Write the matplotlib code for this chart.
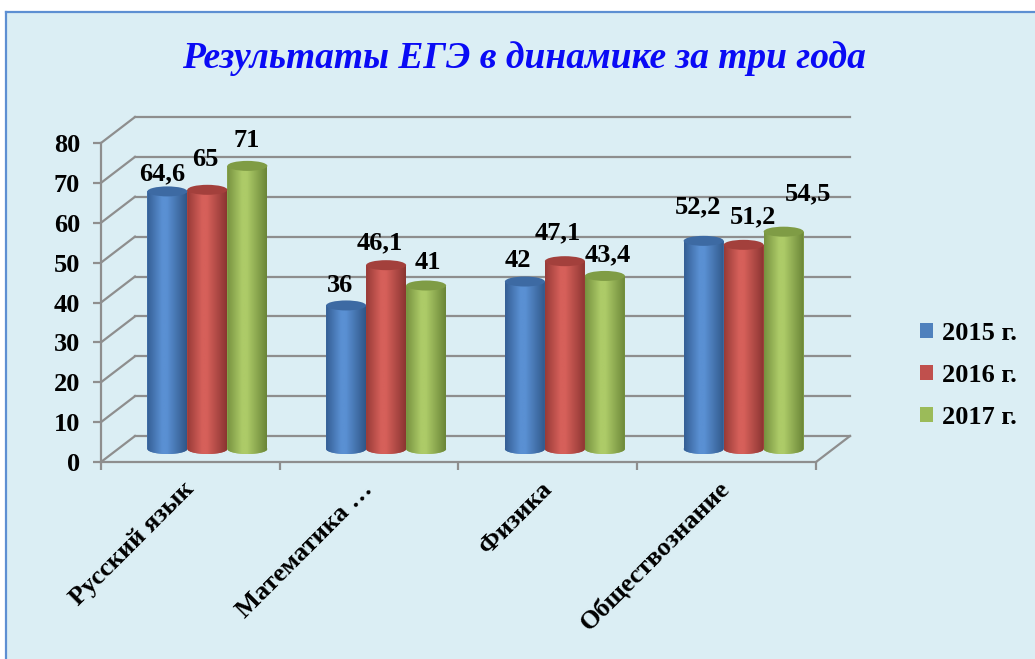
import numpy as np
import matplotlib
matplotlib.use("Agg")
import matplotlib.pyplot as plt
from matplotlib.patches import Rectangle, Ellipse, Patch
from matplotlib.path import Path
from matplotlib.lines import Line2D
from matplotlib.transforms import offset_copy
from matplotlib.colors import LinearSegmentedColormap

# ---------------- data ----------------
categories = ["Русский язык", "Математика …", "Физика", "Обществознание"]
series_names = ["2015 г.", "2016 г.", "2017 г."]
values_2015 = [64.6, 36, 42, 52.2]
values_2016 = [65, 46.1, 47.1, 51.2]
values_2017 = [71, 41, 43.4, 54.5]
y_ticks = [0, 10, 20, 30, 40, 50, 60, 70, 80]
title = "Результаты ЕГЭ в динамике за три года"

series = [values_2015, values_2016, values_2017]

# ---------------- style ----------------
W, H = 1035, 659
SERIF = ["Liberation Serif", "DejaVu Serif"]
FS = 19
base_cols = ["#4f81bd", "#c0504d", "#9bbb59"]
shade = [("#345e94", "#5a90d3", "#2f5687"),
         ("#973a37", "#d6605a", "#8a3431"),
         ("#76913f", "#adcb68", "#6a8537")]
top_cols = ["#3d6aa3", "#a3403c", "#7f9c45"]
grid_col = "#8e8e8e"
# label nudges (px): dx, dy above bar top
nudges = [[(-5, 18), (-2, 30), (-1, 25)],
          [(-6, 20), (-6, 22), (2, 23)],
          [(-7, 21), (-7, 28), (3, 21)],
          [(-6, 34), (9, 28), (24, 38)]]

fig = plt.figure(figsize=(W / 100, H / 100), dpi=100)
fig.patch.set_facecolor("white")

# panel background + border
fig.patches.append(Rectangle((6 / W, 0), 1 - 6 / W, 1 - 12 / H, transform=fig.transFigure,
                             facecolor="#dbeef4", edgecolor="none", zorder=-2))
fig.lines.append(Line2D([6 / W, 6 / W], [0, 1 - 12 / H], transform=fig.transFigure,
                        color="#5d8fd2", lw=1.6, zorder=-1))
fig.lines.append(Line2D([6 / W, 1], [1 - 12 / H, 1 - 12 / H], transform=fig.transFigure,
                        color="#5d8fd2", lw=1.6, zorder=-1))

# front plane axes
x_left, x_right, y_bot, y_top = 101, 816, 462, 143
ax = fig.add_axes([x_left / W, 1 - y_bot / H, (x_right - x_left) / W, (y_bot - y_top) / H])
ax.set_facecolor("none")
ax.set_zorder(2)
ncat = len(categories)
ymax = y_ticks[-1]
px_x = (x_right - x_left) / ncat
px_y = (y_bot - y_top) / ymax
DEPTH_X, DEPTH_Y = 34, 26  # px
DX, DY = DEPTH_X / px_x, DEPTH_Y / px_y

# back wall grid + side wall diagonals
for v in y_ticks:
    ax.plot([DX, ncat + DX], [v + DY, v + DY], color=grid_col, lw=1.6, zorder=1, clip_on=False)
    ax.plot([0, DX], [v, v + DY], color=grid_col, lw=1.6, zorder=1, clip_on=False)
# floor right edge
ax.plot([ncat, ncat + DX], [0, DY], color=grid_col, lw=1.6, zorder=1, clip_on=False)

# bars as cylinders, at mid depth
bar_tr = offset_copy(ax.transData, fig=fig, x=DEPTH_X / 2, y=DEPTH_Y / 2, units="dots")
BW = 40 / px_x
EH = 10 / px_y
grad = np.linspace(0, 1, 256).reshape(1, -1)
for j, vals in enumerate(series):
    d1, lt, d2 = shade[j]
    cm = LinearSegmentedColormap.from_list("c%d" % j, [(0, d1), (0.38, lt), (0.5, lt), (1, d2)])
    for i, v in enumerate(vals):
        xc = i + 0.5 + (j - 1) * BW
        x0, x1 = xc - BW / 2, xc + BW / 2
        ax.bar(xc, v, BW, transform=bar_tr, color=base_cols[j], linewidth=0, zorder=3)
        ax.add_patch(Ellipse((xc, 0), BW, EH, transform=bar_tr, facecolor=base_cols[j],
                             edgecolor="none", zorder=3))
        t = np.linspace(0, np.pi, 40)
        pts = [(x0, v), (x0, 0)] + [(xc - BW / 2 * np.cos(a), -EH / 2 * np.sin(a)) for a in t] + [(x1, v), (x0, v)]
        clip = Path(pts, closed=True)
        im = ax.imshow(grad, cmap=cm, aspect="auto", extent=(x0, x1, -EH / 2, v),
                       transform=bar_tr, interpolation="bilinear", zorder=4)
        im.set_clip_path(clip, bar_tr)
        ax.add_patch(Ellipse((xc, v), BW, EH, transform=bar_tr, facecolor=top_cols[j],
                             edgecolor="none", zorder=5))
        dx, dy = nudges[i][j]
        lab_tr = offset_copy(bar_tr, fig=fig, x=dx, y=dy, units="dots")
        ax.text(xc, v, f"{v:g}".replace(".", ","), transform=lab_tr, ha="center", va="center",
                fontsize=FS, fontweight="bold", family=SERIF, zorder=6)

ax.set_xlim(0, ncat)
ax.set_ylim(0, ymax)

for s in ["top", "right"]:
    ax.spines[s].set_visible(False)
for s in ["left", "bottom"]:
    ax.spines[s].set_color(grid_col)
    ax.spines[s].set_linewidth(1.6)

ax.set_yticks(y_ticks)
ax.set_yticklabels([str(v) for v in y_ticks], fontsize=FS, fontweight="bold", family=SERIF)
ax.tick_params(axis="y", length=6, width=1.6, color=grid_col, pad=9)
ax.set_xticks(range(ncat + 1))
ax.set_xticklabels([""] * (ncat + 1))
ax.tick_params(axis="x", which="major", length=6, width=1.6, color=grid_col)
ax.set_xticks([i + 0.5 for i in range(ncat)], minor=True)
ax.set_xticklabels(categories, minor=True, rotation=45, ha="right", va="center",
                   rotation_mode="anchor", fontsize=FS, fontweight="bold", family=SERIF)
ax.tick_params(axis="x", which="minor", length=0, pad=17)

# title
fig.text(524 / W, 1 - 58 / H, title, ha="center", va="center", fontsize=27,
         fontweight="bold", style="italic", color="#0a0af5", family=SERIF)

# legend
handles = [Patch(facecolor=c, edgecolor="none") for c in base_cols]
fig.legend(handles, series_names, loc="upper left", bbox_to_anchor=(896 / W, 1 - 298 / H),
           frameon=False, prop={"family": SERIF, "weight": "bold", "size": FS},
           handlelength=0.5, handleheight=0.5, handletextpad=0.35, labelspacing=0.72)

fig.savefig("out.png", dpi=100)
